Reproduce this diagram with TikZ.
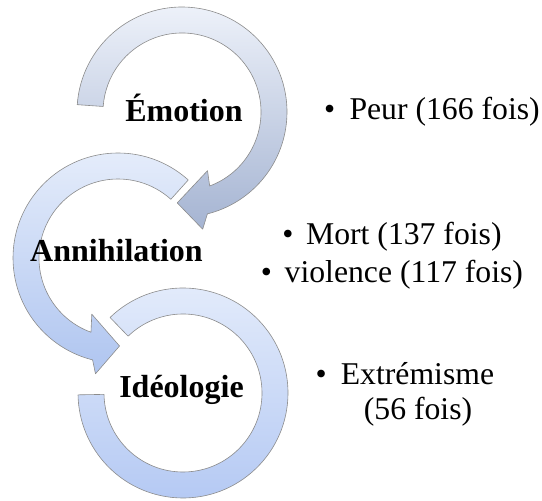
\documentclass[tikz,border=0pt]{standalone}
\usepackage{fontspec}
\setmainfont{Liberation Serif}
\definecolor{ra}{HTML}{EEF2FA}
\definecolor{rb}{HTML}{A5B4D2}
\definecolor{rc}{HTML}{E7EEFB}
\definecolor{rd}{HTML}{AFC5F0}
\definecolor{re}{HTML}{E4ECFB}
\definecolor{rf}{HTML}{B3C8F3}
\begin{document}
\begin{tikzpicture}[x=1pt,y=1pt,
  ring/.style={draw=black!45, line width=0.6pt, line join=round},
  lbl/.style={font=\fontsize{32}{38}\selectfont\bfseries, inner sep=0pt, anchor=base},
  itm/.style={font=\fontsize{31.7}{37}\selectfont, inner sep=0pt}]
\useasboundingbox (0,0) rectangle (542,501);
\coordinate (c1) at (182,389);
\coordinate (c2) at (118,243);
\coordinate (c3) at (183,108);
% ring 1
\begin{scope}[shift={(c1)}]
\path[ring, top color=ra, bottom color=rb]
  (176:105) arc[start angle=176, end angle=-76, radius=105]
  -- (-80:119) -- (-93:91) -- (-66.5:64) -- (-69.5:79)
  arc[start angle=-69.5, end angle=176, radius=79] -- cycle;
\end{scope}
% ring 2
\begin{scope}[shift={(c2)}]
\path[ring, top color=rc, bottom color=rd]
  (48:105) arc[start angle=48, end angle=256, radius=105]
  -- (259:118) -- (271:88) -- (245:62) -- (250:79)
  arc[start angle=250, end angle=48, radius=79] -- cycle;
\end{scope}
% ring 3
\begin{scope}[shift={(c3)}]
\path[ring, top color=re, bottom color=rf]
  (134:105) arc[start angle=134, end angle=-179, radius=105]
  -- (-179:79)
  arc[start angle=-179, end angle=134, radius=79] -- cycle;
\end{scope}
% labels
\node[lbl] (emo) at (184,379) {Émotion};
\node[lbl] (ann) at (116.5,239) {Annihilation};
\node[lbl] (ide) at (181.5,103) {Idéologie};
% items
\node[itm, anchor=base west] (peur) at (324,381) {•\hspace{0.45em}Peur (166 fois)};
\node[itm, anchor=base] (mort) at (392,256) {•\hspace{0.4em}Mort (137 fois)};
\node[itm, anchor=base] (viol) at (392,218) {•\hspace{0.4em}violence (117 fois)};
\node[itm, anchor=base] (extr) at (417.5,116) {\llap{•\hspace{0.45em}}Extrémisme};
\node[itm, anchor=base] (fois) at (418,81) {(56 fois)};
\end{tikzpicture}
\end{document}
